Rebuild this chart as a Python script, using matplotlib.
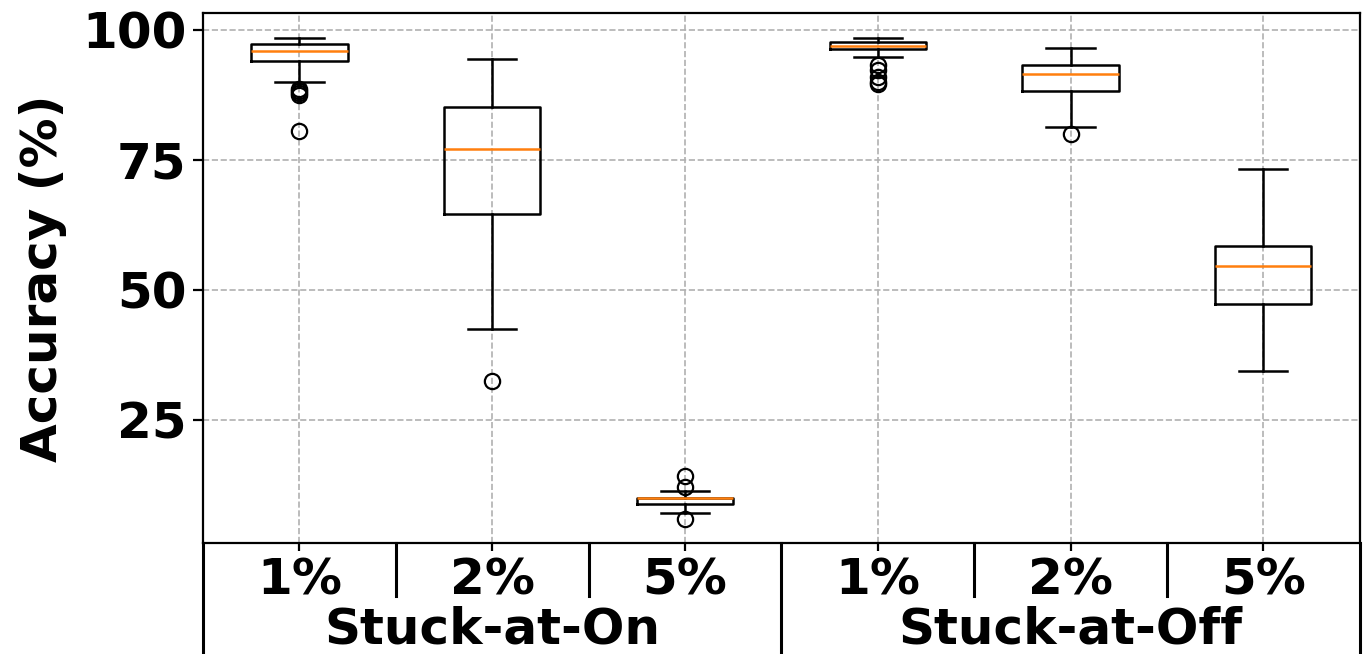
import matplotlib.pyplot as plt
import matplotlib.transforms as mtransforms

plt.rcParams['font.family'] = 'DejaVu Sans'
plt.rcParams['font.weight'] = 'bold'

rates = ['1%', '2%', '5%', '1%', '2%', '5%']
groups = ['Stuck-at-On', 'Stuck-at-Off']

# box stats
whislo = [90.0, 42.4, 7.1, 94.7, 81.3, 34.3]
q1 = [94.0, 64.5, 8.7, 96.2, 88.3, 47.3]
med = [96.0, 77.0, 9.9, 96.9, 91.5, 54.6]
q3 = [97.2, 85.1, 10.0, 97.6, 93.3, 58.3]
whishi = [98.4, 94.3, 11.3, 98.5, 96.5, 73.3]
fliers = [
    [88.6, 88.2, 87.8, 87.5, 80.6],
    [32.4],
    [14.1, 12.0, 5.8],
    [93.3, 92.2, 91.0, 89.9, 89.5],
    [79.9],
    [],
]

stats = []
for i in range(len(rates)):
    stats.append(dict(whislo=whislo[i], q1=q1[i], med=med[i], q3=q3[i],
                      whishi=whishi[i], fliers=fliers[i], label=rates[i]))

fig = plt.figure(figsize=(13.72, 6.54), dpi=100)
ax = fig.add_axes([0.148, 0.170, 0.843, 0.810])

lw = 1.8
ax.bxp(
    stats,
    positions=range(1, 7),
    widths=0.5,
    boxprops=dict(color='black', linewidth=lw),
    whiskerprops=dict(color='black', linewidth=lw),
    capprops=dict(color='black', linewidth=lw),
    medianprops=dict(color='#ff7f0e', linewidth=lw),
    flierprops=dict(marker='o', markerfacecolor='none', markeredgecolor='black',
                    markersize=11, markeredgewidth=1.6),
)

ax.set_xlim(0.5, 6.5)
ax.set_ylim(1.3, 103.2)
ax.set_yticks([25, 50, 75, 100])
ax.set_xticks(range(1, 7))
ax.set_xticklabels(rates)
ax.grid(True, linestyle='--', color='#b0b0b0', linewidth=1.2)
ax.set_axisbelow(True)

for s in ax.spines.values():
    s.set_linewidth(1.6)

ax.tick_params(axis='y', labelsize=36, length=7, width=1.6, pad=5)
ax.tick_params(axis='x', labelsize=36, length=6, width=1.6, pad=4)
for lab in ax.get_xticklabels() + ax.get_yticklabels():
    lab.set_fontweight('bold')

ax.set_ylabel('Accuracy (%)', fontsize=36, fontweight='bold', labelpad=11)

# group separators and group labels below the axis
trans = mtransforms.blended_transform_factory(ax.transData, ax.transAxes)
for x in [1.5, 2.5, 4.5, 5.5]:
    ax.plot([x, x], [0, -0.101], color='black', linewidth=2.2,
            transform=trans, clip_on=False)
for x in [0.5, 3.5, 6.5]:
    ax.plot([x, x], [0, -0.23], color='black', linewidth=2.2,
            transform=trans, clip_on=False)

for i, g in enumerate(groups):
    ax.text(2 + 3 * i, -0.164, g, transform=trans, ha='center', va='center',
            fontsize=36, fontweight='bold')

plt.savefig('out.png', dpi=100)
